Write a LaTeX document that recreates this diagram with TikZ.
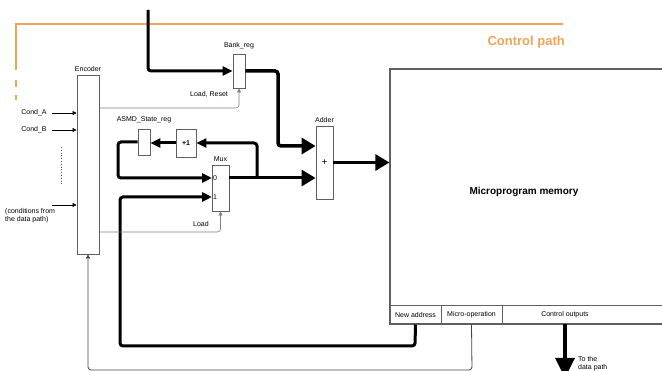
\documentclass[tikz,border=0pt]{standalone}
\usepackage{fontspec}
\setmainfont{Liberation Sans}
\usetikzlibrary{arrows.meta,calc}
\definecolor{ctrlorange}{RGB}{240,164,88}
\definecolor{boxgray}{RGB}{95,95,95}
\begin{document}
\begin{tikzpicture}[x=1pt,y=-1pt,
  box/.style={draw=boxgray, line width=0.8pt, fill=white, inner sep=0pt},
  lbl/.style={font=\fontsize{7}{8.5}\selectfont, inner sep=0pt},
  thickw/.style={line width=3pt, rounded corners=3pt},
  smalltip/.style={-{Triangle[length=10pt,width=9pt]}},
  bigtip/.style={-{Triangle[length=14pt,width=16pt]}},
  thinw/.style={line width=0.6pt, rounded corners=3pt, -{Triangle[length=4pt,width=4pt]}},
  orangeline/.style={draw=ctrlorange, line width=1.3pt}
]
\useasboundingbox (0,0) rectangle (662,371);
\clip (0,0) rectangle (662,371);

% control path boundary
\draw[orangeline] (563,24) -- (16,24) -- (16,70);
\draw[orangeline, dash pattern=on 7pt off 8pt] (16,80) -- (16,100);
\node[anchor=east, inner sep=0pt, text=ctrlorange, font=\fontsize{13}{15}\bfseries] (cp) at (565,42) {Control path};

% boxes
\node[box, minimum width=22pt, minimum height=179pt] (enc) at (88,164.5) {};
\node[lbl, anchor=south] (encl) at (enc.north) [yshift=3pt] {Encoder};

\node[box, minimum width=12pt, minimum height=34pt] (bank) at (239,71) {};
\node[lbl, anchor=south] (bankl) at (bank.north) [yshift=4pt] {Bank\_reg};

\node[box, minimum width=12pt, minimum height=26pt] (asmd) at (144,142) {};
\node[lbl, anchor=south] (asmdl) at (asmd.north) [yshift=5pt] {ASMD\_State\_reg};

\node[box, minimum width=20pt, minimum height=28pt, font=\fontsize{7}{8}\bfseries\selectfont] (plus) at (186,143) {+1};

\node[box, minimum width=17pt, minimum height=46pt] (mux) at (220.5,188) {};
\node[lbl, anchor=south] (muxl) at (mux.north) [yshift=3pt] {Mux};
\coordinate (in0) at (212,178);
\coordinate (in1) at (212,197);
\node[lbl, anchor=west] (m0) at ($(in0)+(1,0)$) {0};
\node[lbl, anchor=west] (m1) at ($(in1)+(1,0)$) {1};

\node[box, minimum width=17pt, minimum height=73pt, font=\fontsize{10}{12}\selectfont] (adder) at (324.5,162.5) {+};
\node[lbl, anchor=south] (adderl) at (adder.north) [yshift=3pt] {Adder};

% memory
\node[draw=boxgray, line width=1.2pt, minimum width=280pt, minimum height=255pt, inner sep=0pt] (mem) at (530,196.5) {};
\node[inner sep=0pt, font=\fontsize{10}{12}\bfseries\selectfont] (memt) at (524,192) {Microprogram memory};
\node[draw=boxgray, line width=1pt, minimum width=51pt, minimum height=18pt, inner sep=0pt, lbl] (na) at (415.5,315) {New address};
\node[draw=boxgray, line width=1pt, minimum width=61pt, minimum height=18pt, inner sep=0pt, lbl] (mo) at (471.5,315) {Micro-operation};
\node[draw=boxgray, line width=1pt, minimum width=170pt, minimum height=18pt, inner sep=0pt] (co) at (587,315) {};
\node[lbl] (cot) at (565,315) {Control outputs};

% condition inputs
\node[lbl] (ca) at (34,113) {Cond\_A};
\node[lbl] (cb) at (34,130) {Cond\_B};
\node[lbl, anchor=north west, align=left] (cd) at (5,208) {(conditions from\\the data path)};
\draw[thinw] (52,113) -- (enc.west |- ca);
\draw[thinw] (52,130) -- (enc.west |- cb);
\draw[thinw] (52,205) -- (enc.west |- 0,205);
\draw[boxgray, line width=0.8pt, dotted] (61,147) -- (61,186);

% top input to bank register
\coordinate (topin) at (148,10);
\draw[thickw, smalltip] (topin) -- (148,71) -- (bank.west);

% bank -> adder
\draw[thickw, line width=3.5pt, bigtip] (bank.east) -- (278,71) -- (278,146) -- (adder.west |- 0,146);

% mux -> adder
\draw[thickw, bigtip] (mux.east |- in0) -- (adder.west |- in0);
% feedback loop
\draw[thickw, smalltip] (257,178) -- (257,143) -- (plus.east);
\draw[thickw, smalltip] (plus.west) -- (asmd.east |- plus.west);
\draw[thickw, smalltip] (asmd.west) -- (118,142) -- (118,178) -- (in0);

% new address -> mux 1
\draw[thickw, smalltip] (na.south) -- (415,346) -- (120,346) -- (120,197) -- (in1);

% micro-operation -> encoder
\draw[thinw, line width=0.8pt, draw=boxgray!70!black] (mo.south) -- (472,370) -- (88,370) -- (enc.south);

% encoder control lines
\draw[thinw, draw=boxgray!80] (enc.east |- 0,108) -- (bank.south |- 0,108) -- (bank.south);
\node[lbl] (lr) at (209,94) {Load, Reset};
\draw[thinw, draw=boxgray!80] (enc.east |- 0,232) -- (mux.south |- 0,232) -- (mux.south);
\node[lbl] (ld) at (201,224) {Load};

% adder -> memory
\draw[thickw, bigtip] (adder.east) -- (mem.west |- adder.east);

% control outputs
\coordinate (dpout) at (565,378);
\draw[line width=3.5pt, -{Triangle[length=20pt,width=19pt]}] (cot |- co.south) -- (dpout);
\node[lbl, anchor=north west, align=left] (dp) at (578,356) {To the\\data path};
\end{tikzpicture}
\end{document}
